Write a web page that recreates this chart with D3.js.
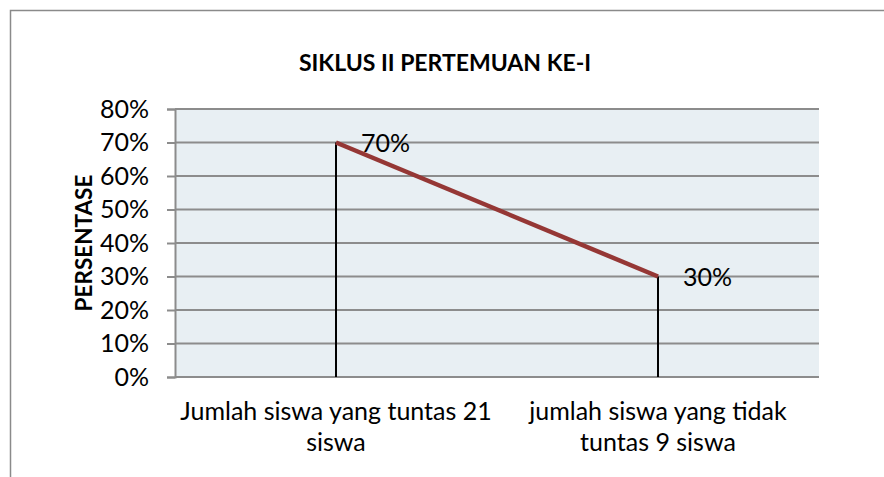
<!DOCTYPE html>
<html>
<head>
<meta charset="utf-8">
<script src="https://cdn.jsdelivr.net/npm/d3@7"></script>
<style>
  body { margin: 0; background: #fff; }
  svg { display: block; font-family: Lato, "Noto Sans", sans-serif; }
</style>
</head>
<body>
<div id="chart"></div>
<script>
// chart data
var categories = ["Jumlah siswa yang tuntas 21 siswa", "jumlah siswa yang tidak tuntas 9 siswa"];
var categoryLines = [["Jumlah siswa yang tuntas 21", "siswa"], ["jumlah siswa yang tidak", "tuntas 9 siswa"]];
var values = [0.70, 0.30];
var yTicks = [0, 0.1, 0.2, 0.3, 0.4, 0.5, 0.6, 0.7, 0.8];
var title = "SIKLUS II PERTEMUAN KE-I";
var yTitle = "PERSENTASE";

function init(){
    var w = 884;
    var h = 477;
    var plot = {left: 175, right: 819, top: 109, bottom: 377};

    var svg = d3.select('#chart')
                .append('svg')
                .attr('width', w)
                .attr('height', h);

    // outer chart border (cropped at right and bottom)
    svg.append('rect')
        .attr('x', 10.5).attr('y', 10.5)
        .attr('width', 900).attr('height', 500)
        .attr('fill', 'white')
        .attr('stroke', '#8a8a8a')
        .attr('stroke-width', 1.5);

    var xScale = d3.scaleBand()
                    .domain(categories)
                    .range([plot.left, plot.right]);

    var yScale = d3.scaleLinear()
                    .domain([0, 0.8])
                    .range([plot.bottom, plot.top]);

    // plot background
    svg.append('rect')
        .attr('x', plot.left).attr('y', plot.top)
        .attr('width', plot.right - plot.left)
        .attr('height', plot.bottom - plot.top)
        .attr('fill', '#e8eff3');

    // gridlines
    svg.append('g')
        .selectAll('line')
        .data(yTicks)
        .enter()
        .append('line')
        .attr('x1', plot.left)
        .attr('x2', plot.right)
        .attr('y1', function(d){ return yScale(d); })
        .attr('y2', function(d){ return yScale(d); })
        .attr('stroke', '#8c8c8c')
        .attr('stroke-width', 2);

    // y axis
    var yAxis = d3.axisLeft(yScale)
                  .tickValues(yTicks)
                  .tickFormat(d3.format('.0%'))
                  .tickSize(8)
                  .tickPadding(18);
    var gy = svg.append('g')
        .attr('transform', 'translate(' + plot.left + ',0)')
        .call(yAxis);
    gy.select('.domain').attr('stroke', '#8c8c8c').attr('stroke-width', 2);
    gy.selectAll('.tick line').attr('stroke', '#8c8c8c').attr('stroke-width', 2);
    gy.selectAll('.tick text')
        .attr('fill', '#000')
        .attr('font-size', 25)
        .attr('font-family', 'Lato, sans-serif');

    // drop lines
    svg.append('g')
        .selectAll('line')
        .data(values)
        .enter()
        .append('line')
        .attr('x1', function(d,i){ return xScale(categories[i]) + xScale.bandwidth() / 2; })
        .attr('x2', function(d,i){ return xScale(categories[i]) + xScale.bandwidth() / 2; })
        .attr('y1', function(d){ return yScale(d); })
        .attr('y2', plot.bottom)
        .attr('stroke', '#000')
        .attr('stroke-width', 2);

    // series line
    var line = d3.line()
                 .x(function(d,i){ return xScale(categories[i]) + xScale.bandwidth() / 2; })
                 .y(function(d){ return yScale(d); });
    svg.append('path')
        .datum(values)
        .attr('d', line)
        .attr('fill', 'none')
        .attr('stroke', '#953735')
        .attr('stroke-width', 4.5);

    // data labels
    svg.append('g')
        .selectAll('text')
        .data(values)
        .enter()
        .append('text')
        .text(function(d){ return d3.format('.0%')(d); })
        .attr('x', function(d,i){ return xScale(categories[i]) + xScale.bandwidth() / 2 + 25; })
        .attr('y', function(d){ return yScale(d) + 9; })
        .attr('font-size', 25)
        .attr('fill', '#000');

    // category labels
    var xl = svg.append('g')
        .selectAll('text')
        .data(categoryLines)
        .enter()
        .append('text')
        .attr('text-anchor', 'middle')
        .attr('font-size', 25)
        .attr('fill', '#000')
        .attr('x', function(d,i){ return xScale(categories[i]) + xScale.bandwidth() / 2; })
        .attr('y', 420);
    xl.selectAll('tspan')
        .data(function(d){ return d; })
        .enter()
        .append('tspan')
        .attr('x', function(){ return d3.select(this.parentNode).attr('x'); })
        .attr('dy', function(d,i){ return i === 0 ? 0 : 31; })
        .text(function(d){ return d; });

    // title
    svg.append('text')
        .text(title)
        .attr('x', 445)
        .attr('y', 71)
        .attr('text-anchor', 'middle')
        .attr('font-size', 23)
        .attr('font-weight', 'bold');

    // y axis title
    svg.append('text')
        .text(yTitle)
        .attr('transform', 'translate(92,243) rotate(-90)')
        .attr('text-anchor', 'middle')
        .attr('font-size', 22.5)
        .attr('font-weight', 'bold');
}

window.onload = init;
</script>
</body>
</html>
